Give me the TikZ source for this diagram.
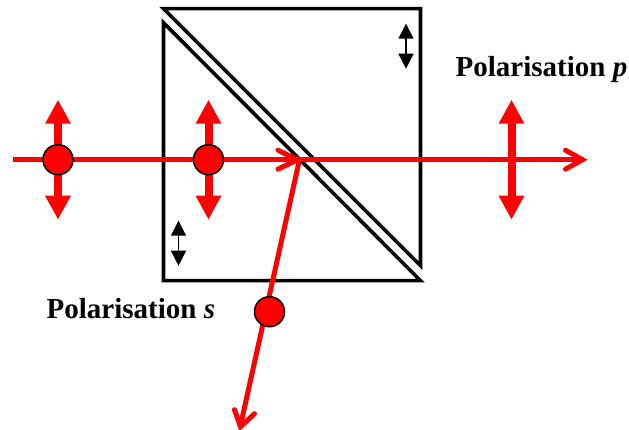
\documentclass[tikz,border=0pt]{standalone}
\usepackage{fontspec}
\setmainfont{Liberation Serif}
\usetikzlibrary{arrows.meta}
\tikzset{
  prism/.style={draw=black,line width=3.6pt,miter limit=20},
  beam/.style={draw=red,line width=5pt},
  barb/.style={draw=red,line width=5pt,line cap=round,line join=miter},
  pol/.style={draw=red,line width=8pt,{Triangle[length=24pt,width=24pt,fill=red]}-{Triangle[length=24pt,width=24pt,fill=red]},shorten <=0pt,shorten >=0pt},
  small/.style={draw=black,line width=1.5pt,{Triangle[length=15pt,width=15pt,fill=black]}-{Triangle[length=15pt,width=15pt,fill=black]}},
  dot/.style={circle,draw=black,fill=red,line width=1.5pt,minimum size=30pt,inner sep=0pt},
  lab/.style={inner sep=0pt,anchor=base west,font=\fontsize{29}{32}\selectfont\bfseries}
}
\begin{document}
\begin{tikzpicture}[x=1pt,y=-1pt]
\useasboundingbox (0,0) rectangle (629,430);
\fill[white] (0,0) rectangle (629,430);
\begin{scope}[shift={(0.5,0.7)}]
% prisms
\draw[prism] (163,8) -- (420,8) -- (420,265) -- cycle;
\draw[prism] (163,22) -- (163,280) -- (420,280) -- cycle;
% coordinates
\coordinate (start) at (12,159);
\coordinate (split) at (299,159);
\coordinate (end) at (583,159);
\coordinate (tip) at (239.5,427);
\coordinate (a1t) at (57.5,99); \coordinate (a1b) at (57.5,219);
\coordinate (a2t) at (208,99);  \coordinate (a2b) at (208,219);
\coordinate (a3t) at (511,99);  \coordinate (a3b) at (511,219);
\coordinate (s1t) at (405.5,23); \coordinate (s1b) at (405.5,68);
\coordinate (s2t) at (178,220);  \coordinate (s2b) at (178,265);
% beams
\draw[beam] (start) -- (end);
\draw[beam] (split) -- (tip);
\draw[barb] (277.5,149.5) -- (297,159) -- (277.5,168.5);
\draw[barb] (565,149.5) -- (582,159) -- (565,168.5);
\draw[barb] (234,409) -- (240,426) -- (254,413);
% polarisation arrows
\draw[pol] (a1t) -- (a1b);
\draw[pol] (a2t) -- (a2b);
\draw[pol] (a3t) -- (a3b);
\draw[small] (s1t) -- (s1b);
\draw[small] (s2t) -- (s2b);
% dots
\node[dot] (d1) at (57.5,159) {};
\node[dot] (d2) at (208,159) {};
\node[dot] (d3) at (269,311) {};
% labels
\node[lab] (lp) at (455,76) {Polarisation \textit{p}};
\node[lab] (ls) at (46,318) {Polarisation \textit{s}};
\end{scope}
\end{tikzpicture}
\end{document}
